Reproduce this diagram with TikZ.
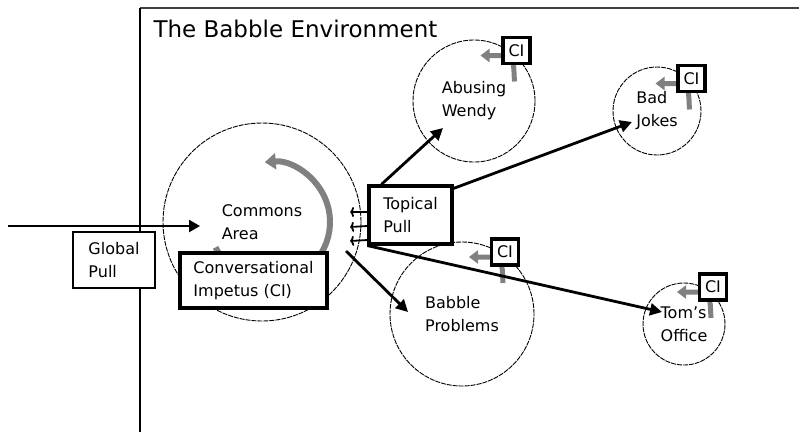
\documentclass[tikz,border=0pt]{standalone}
\usepackage{fontspec}
\setmainfont{DejaVu Sans}
\usetikzlibrary{arrows.meta}
\begin{document}
\begin{tikzpicture}[x=1pt,y=1pt,
  place/.style={circle, draw, line width=0.9pt, dash pattern=on 5pt off 1pt, inner sep=0pt, align=left, font=\fontsize{16}{23}\selectfont},
  box/.style={rectangle, draw, line width=3.2pt, fill=white, inner sep=0pt, align=left, font=\fontsize{16}{23}\selectfont},
  cibox/.style={rectangle, draw, line width=3.2pt, fill=white, inner sep=0pt, minimum width=27pt, minimum height=26pt, font=\fontsize{16}{18}\selectfont},
  pull/.style={line width=2.8pt, -{Triangle[length=12pt,width=12pt]}},
  tick/.style={line width=1.8pt, -{To[length=4pt,width=10pt]}},
  impetus/.style={draw=black!50, line width=5pt, -{Triangle[length=9pt,width=13pt]}},
]
\useasboundingbox (0,0) rectangle (799,-432);
% frame
\draw[line width=2.2pt, black!75] (140,-8) -- (799,-8);
\draw[line width=1.2pt] (140,-8) -- (140,-432);
\node[anchor=base west, font=\fontsize{23}{23}\selectfont] (title) at (150,-37) {The Babble Environment};

% places
\node[place, minimum size=198pt] (commons) at (262,-222) {Commons\\Area};
\node[place, minimum size=122pt] (wendy) at (474,-101) {Abusing\\Wendy};
\node[place, minimum size=88pt] (jokes) at (657,-111) {Bad\\Jokes};
\node[place, minimum size=144pt] (babble) at (462,-314) {Babble\\Problems};
\node[place, minimum size=82pt] (toms) at (684,-324) {Tom's\\Office};

% conversational impetus arc in commons
\draw[impetus, line width=6pt, -{Triangle[length=11pt,width=16pt]}] (270,-222) ++(205:60) arc[start angle=205, end angle=455, radius=60];

% CI box positions, for the gray arrows
\coordinate (ciwc) at (516.5,-50.5);
\coordinate (cijc) at (691.5,-78.5);
\coordinate (cibc) at (505,-252);
\coordinate (citc) at (713,-287);
\foreach \c in {ciwc,cijc,cibc,citc}{
  \draw[impetus] ([shift={(-2,-31)}]\c) to[out=95,in=0] ([shift={(-12,-5)}]\c) -- ([shift={(-36,-5)}]\c);
}

% pull arrows
\coordinate (gstart) at (8,-226);
\coordinate (gtip) at (200,-226);
\coordinate (wtip) at (443,-128);
\coordinate (jtip) at (632,-122);
\coordinate (ttip) at (662,-312);
\coordinate (bstart) at (346,-251);
\coordinate (btip) at (408,-312);
\draw[line width=2.4pt, -{Triangle[length=11pt,width=12pt]}] (gstart) -- (gtip);

\node[box, minimum width=83pt, minimum height=58pt] (topical) at (410.5,-215) {Topical\\Pull};
\draw[pull] ([xshift=14pt]topical.north west) -- (wtip);
\draw[pull] ([yshift=-4pt]topical.north east) -- (jtip);
\draw[pull] (topical.south west) -- (ttip);
\draw[pull] (bstart) -- (btip);

% small pull ticks into commons
\coordinate (k1) at (350,-212);
\coordinate (k2) at (350,-227);
\coordinate (k3) at (350,-241);
\draw[tick] ([yshift=3pt]topical.west) -- (k1);
\draw[tick] ([yshift=-11pt]topical.west) -- (k2);
\draw[tick] ([yshift=-25pt]topical.west) -- (k3);

% boxes
\node[box, minimum width=147pt, minimum height=55pt] (conv) at (253.5,-280.5) {Conversational\\Impetus (CI)};
\node[box, line width=2.6pt, minimum width=82pt, minimum height=56pt] (global) at (114,-260) {Global\\Pull};

\node[cibox] (ciw) at (ciwc) {CI};
\node[cibox] (cij) at (cijc) {CI};
\node[cibox] (cib) at (cibc) {CI};
\node[cibox] (cit) at (citc) {CI};
\end{tikzpicture}
\end{document}
